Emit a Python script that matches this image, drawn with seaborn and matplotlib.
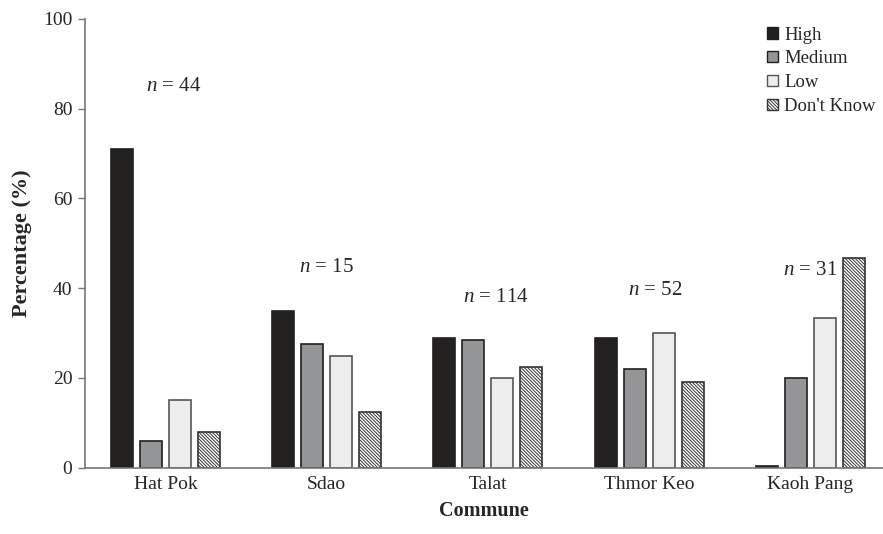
import matplotlib
matplotlib.use("Agg")
import matplotlib.pyplot as plt
import seaborn as sns
import pandas as pd
from matplotlib.patches import Patch

communes = ["Hat Pok", "Sdao", "Talat", "Thmor Keo", "Kaoh Pang"]
levels = ["High", "Medium", "Low", "Don't Know"]
high = [71.0, 35.0, 29.0, 28.8, 0.5]
medium = [6.0, 27.5, 28.5, 22.0, 20.0]
low = [15.0, 25.0, 20.0, 30.0, 33.3]
dont_know = [8.0, 12.5, 22.5, 19.0, 46.7]
sample_sizes = [44, 15, 114, 52, 31]
label_heights = [85.0, 44.5, 38.0, 39.5, 44.0]
label_shift = [0.05, 0.0, 0.05, 0.04, 0.0]

rows = []
for lvl, vals in zip(levels, [high, medium, low, dont_know]):
    for c, v in zip(communes, vals):
        rows.append({"Commune": c, "Level": lvl, "Percentage": v})
df = pd.DataFrame(rows)

sns.set_theme(style="white")
plt.rcParams["font.family"] = ["Liberation Serif", "DejaVu Serif"]
plt.rcParams["mathtext.fontset"] = "custom"
plt.rcParams["mathtext.rm"] = "Liberation Serif"
plt.rcParams["mathtext.it"] = "Liberation Serif:italic"
plt.rcParams["hatch.linewidth"] = 0.7
plt.rcParams["hatch.color"] = "#333333"

HATCH = "\\" * 10
fills = {"High": "#231f20", "Medium": "#939598", "Low": "#ededed", "Don't Know": "#ffffff"}
edges = {"High": "#231f20", "Medium": "#231f20", "Low": "#555555", "Don't Know": "#333333"}

fig, ax = plt.subplots(figsize=(8.83, 5.34), dpi=100)
sns.barplot(data=df, x="Commune", y="Percentage", hue="Level", order=communes,
            hue_order=levels, palette=fills, width=0.72, gap=0.24, ax=ax,
            legend=False, errorbar=None)

for lvl, cont in zip(levels, ax.containers):
    for bar in cont:
        bar.set_edgecolor(edges[lvl])
        bar.set_linewidth(1.2)
        if lvl == "Don't Know":
            bar.set_hatch(HATCH)

for i, (n, h, dx) in enumerate(zip(sample_sizes, label_heights, label_shift)):
    ax.text(i + dx, h, f"$n$ = {n}", ha="center", va="center", fontsize=15)

ax.set_xlim(-0.5, 4.45)
ax.set_ylim(0, 100)
ax.set_yticks([0, 20, 40, 60, 80, 100])
ax.tick_params(axis="y", length=5, width=1, color="#777777", labelsize=14, pad=4, left=True)
ax.tick_params(axis="x", length=0, labelsize=14, pad=6)
for s in ["top", "right"]:
    ax.spines[s].set_visible(False)
for s in ["left", "bottom"]:
    ax.spines[s].set_color("#777777")
    ax.spines[s].set_linewidth(1.2)

ax.set_xlabel("Commune", fontsize=14.5, fontweight="bold", labelpad=6)
ax.set_ylabel("Percentage (%)", fontsize=16, fontweight="bold", labelpad=8)

handles = []
for lvl in levels:
    handles.append(Patch(facecolor=fills[lvl], edgecolor=edges[lvl], linewidth=1,
                         hatch=HATCH if lvl == "Don't Know" else None, label=lvl))
ax.legend(handles=handles, loc="upper right", bbox_to_anchor=(1.012, 1.02), frameon=False,
          handlelength=0.55, handleheight=0.55, handletextpad=0.35, labelspacing=0.36,
          fontsize=13.5)

fig.subplots_adjust(left=0.096, right=1.0, top=0.965, bottom=0.124)
fig.savefig("out.png", dpi=100)
